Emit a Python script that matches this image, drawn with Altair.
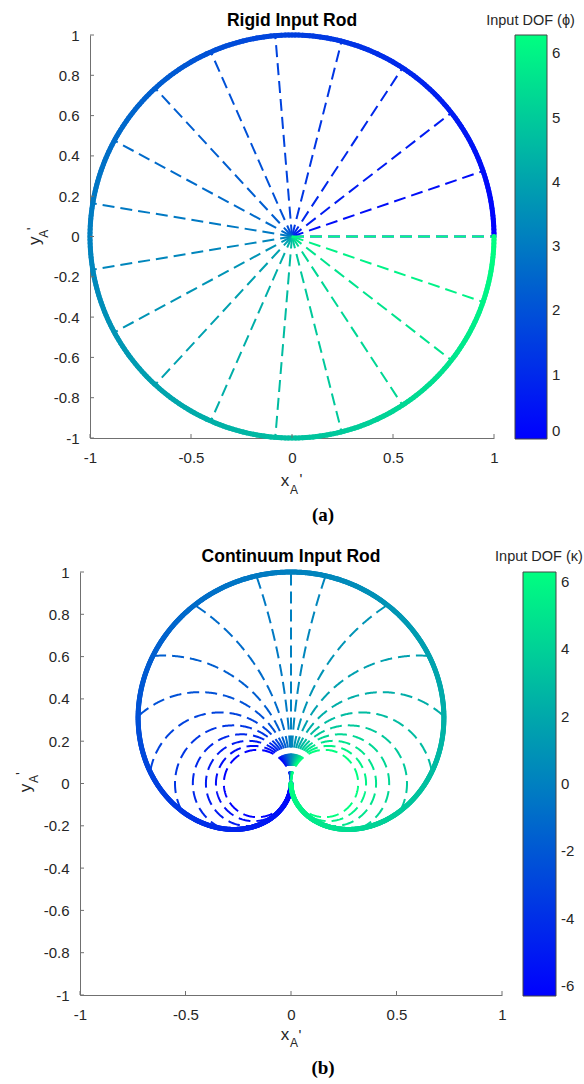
import altair as alt
import numpy as np
import pandas as pd

# ---------------- values ----------------
ROD_LENGTH = 1.0
# (a) rigid input rod: input DOF phi, colour bar 0 .. 2*pi
PHI_RANGE = [0.0, 6.2832]
PHI_SPOKES_DEG = [0, 18.95, 37.89, 56.84, 75.79, 94.74, 113.68, 132.63, 151.58, 170.53,
                  189.47, 208.42, 227.37, 246.32, 265.26, 284.21, 303.16, 322.11, 341.05, 360]
# (b) continuum input rod: input DOF kappa (curvature), colour bar -2*pi .. 2*pi
KAPPA_RANGE = [-6.2832, 6.2832]
KAPPA_ARCS = [-6.283, -5.622, -4.960, -4.299, -3.638, -2.976, -2.315, -1.653, -0.992, -0.331, 0.0,
              0.331, 0.992, 1.653, 2.315, 2.976, 3.638, 4.299, 4.960, 5.622, 6.283]
X_TICKS = [-1, -0.5, 0, 0.5, 1]
Y_TICKS = [-1, -0.8, -0.6, -0.4, -0.2, 0, 0.2, 0.4, 0.6, 0.8, 1]
CBAR_TICKS_A = [0, 1, 2, 3, 4, 5, 6]
CBAR_TICKS_B = [-6, -4, -2, 0, 2, 4, 6]
WINTER = ["#0000ff", "#00ff80"]  # MATLAB 'winter' colormap end points

# ---------------- geometry of the rods ----------------
def arc_xy(kappa, s):
    """planar constant-curvature rod from the origin, initial tangent +y"""
    if abs(kappa) < 1e-9:
        return np.zeros_like(s), ROD_LENGTH * s
    return (1 - np.cos(kappa * s)) / kappa, np.sin(kappa * s) / kappa

# (a) thick circle drawn as coloured segments
phi = np.linspace(PHI_RANGE[0], PHI_RANGE[1], 361)
circ = pd.DataFrame({
    "x": ROD_LENGTH * np.cos(phi[:-1]), "y": ROD_LENGTH * np.sin(phi[:-1]),
    "x2": ROD_LENGTH * np.cos(phi[1:]), "y2": ROD_LENGTH * np.sin(phi[1:]),
    "c": (phi[:-1] + phi[1:]) / 2})
sp = np.radians(PHI_SPOKES_DEG)
spokes = pd.DataFrame({"x": 0.0, "y": 0.0, "x2": ROD_LENGTH * np.cos(sp),
                       "y2": ROD_LENGTH * np.sin(sp), "c": sp})

# (b) tip curve and dashed arcs
kap = np.linspace(KAPPA_RANGE[0], KAPPA_RANGE[1], 801)
safe = np.where(kap == 0, 1, kap)
tx = np.where(np.abs(kap) < 1e-9, 0.0, (1 - np.cos(kap)) / safe)
ty = np.where(np.abs(kap) < 1e-9, 1.0, np.sin(kap) / safe)
tip = pd.DataFrame({"x": tx[:-1], "y": ty[:-1], "x2": tx[1:], "y2": ty[1:],
                    "c": (kap[:-1] + kap[1:]) / 2})
rows = []
s = np.linspace(0, 1, 241)
for i, k in enumerate(KAPPA_ARCS):
    ax_, ay_ = arc_xy(k, s)
    rows.append(pd.DataFrame({"id": i, "s": s, "x": ax_, "y": ay_, "c": k}))
arcs = pd.concat(rows, ignore_index=True)

# ---------------- styling helpers ----------------
FONT = "Liberation Sans"
SERIF = "Liberation Serif"
LBL = "#262626"
AX_COL = "#707070"
SC = alt.Scale(domain=[-1, 1], nice=False, zero=False)
LABEL_EXPR = "toString(datum.value)"
AXX = alt.Axis(title=None, values=X_TICKS, labelExpr=LABEL_EXPR)
AXY = alt.Axis(title=None, values=Y_TICKS, labelExpr=LABEL_EXPR)


def panel(dfs, crange, cticks, width, height, legend_x, thick, texts):
    circ_df, dash_df, dash_is_line = dfs
    tick_len_x = 4 / (width / 2)
    tick_len_y = 4 / (height / 2)
    legend = alt.Legend(orient="none", legendX=legend_x, legendY=0, title=None,
                        direction="vertical", gradientLength=height + 1,
                        gradientThickness=thick, values=cticks, labelExpr=LABEL_EXPR,
                        labelFont=FONT, labelFontSize=15, labelColor=LBL, labelOffset=5,
                        labelBaseline="middle", gradientStrokeColor="#444444",
                        gradientStrokeWidth=1, padding=0)
    col = alt.Color("c:Q", scale=alt.Scale(domain=crange, range=WINTER, interpolate="rgb"),
                    legend=legend)
    X = lambda f: alt.X(f, type="quantitative", scale=SC, axis=AXX)
    Y = lambda f: alt.Y(f, type="quantitative", scale=SC, axis=AXY)

    if dash_is_line:
        dashed = alt.Chart(dash_df).mark_line(strokeWidth=2, strokeDash=[12, 6]).encode(
            x=X("x"), y=Y("y"), detail="id:N", order="s:Q", color=col)
    else:
        dashed = alt.Chart(dash_df).mark_rule(strokeWidth=2, strokeDash=[12, 6]).encode(
            x=X("x"), y=Y("y"), x2="x2", y2="y2", color=col)
    thick_curve = alt.Chart(circ_df).mark_rule(strokeWidth=5, strokeCap="round").encode(
        x=X("x"), y=Y("y"), x2="x2", y2="y2", color=col)

    ytk = pd.DataFrame({"x": -1.0, "x2": -1 + tick_len_x, "y": Y_TICKS, "y2": Y_TICKS})
    xtk = pd.DataFrame({"x": X_TICKS, "x2": X_TICKS, "y": -1.0, "y2": -1 + tick_len_y})
    ticks = [alt.Chart(d).mark_rule(color=AX_COL, strokeWidth=1).encode(
        x=X("x"), y=Y("y"), x2="x2", y2="y2") for d in (ytk, xtk)]

    layers = [dashed, thick_curve] + ticks
    for t in texts:
        (txt, xd, yd, dx, dy, size, weight, angle, font) = t
        layers.append(alt.Chart(pd.DataFrame({"t": [txt]})).mark_text(
            dx=dx, dy=dy, fontSize=size, fontWeight=weight, angle=angle, font=font,
            color="#000000" if weight == "bold" else LBL, baseline="middle", align="center"
        ).encode(x=alt.XDatum(xd, type="quantitative", scale=SC, axis=AXX),
                 y=alt.YDatum(yd, type="quantitative", scale=SC, axis=AXY),
                 text="t:N"))
    return alt.layer(*layers).properties(width=width, height=height)


texts_a = [
    ("Rigid Input Rod", 0, 1, 0, -13.6, 17.5, "bold", 0, FONT),
    ("Input DOF (ϕ)", 1, 1, 36.5, -14, 14.5, "normal", 0, FONT),
    ("x", 0, -1, -7, 43, 17, "normal", 0, FONT),
    ("A", 0, -1, 2, 51.5, 12, "normal", 0, FONT),
    ("'", 0, -1, 9, 41, 15, "normal", 0, FONT),
    ("y", -1, 0, -4.3, -55, 17, "normal", 270, FONT),
    ("A", -1, 0, 2.7, -46, 12, "normal", 270, FONT),
    ("'", -1, 0, 7.7, -58.5, 15, "normal", 270, FONT),
    ("(a)", 0, -1, 31, 76.5, 19, "bold", 0, SERIF),
]
texts_b = [
    ("Continuum Input Rod", 0, 1, 0, -15, 17.5, "bold", 0, FONT),
    ("Input DOF (κ)", 1, 1, 37, -15, 14.5, "normal", 0, FONT),
    ("x", 0, -1, -6, 40, 17, "normal", 0, FONT),
    ("A", 0, -1, 3, 48, 12, "normal", 0, FONT),
    ("'", 0, -1, 9, 39.5, 15, "normal", 0, FONT),
    ("y", -1, 0, -4.5, -54, 17, "normal", 270, FONT),
    ("A", -1, 0, 4.5, -46, 12, "normal", 270, FONT),
    ("'", -1, 0, 10, -59, 15, "normal", 270, FONT),
    ("(b)", 0, -1, 32, 73, 19, "bold", 0, SERIF),
]

top = panel((circ, spokes, False), PHI_RANGE, CBAR_TICKS_A, 404, 403, 425, 32, texts_a)
bottom = panel((tip, arcs, True), KAPPA_RANGE, CBAR_TICKS_B, 422, 423, 443, 33, texts_b)

spacer = alt.Chart(pd.DataFrame({"v": [0]})).mark_point(opacity=0).encode(
    x=alt.X("v:Q", axis=None), y=alt.Y("v:Q", axis=None)).properties(width=10, height=403)

row = alt.hconcat(spacer, top, spacing=0, bounds="flush").resolve_scale(
    x="independent", y="independent", color="independent")

# the nested row counts as zero height in the flush layout, so the spacing
# holds the top panel's height (403) plus the gap between the panels (134)
chart = alt.vconcat(row, bottom, spacing=537, bounds="flush").resolve_scale(
    x="independent", y="independent", color="independent"
).resolve_legend(color="independent").properties(
    padding={"left": 13, "top": 11, "right": 0, "bottom": 0},
    autosize=alt.AutoSizeParams(type="pad"),
    background="#ffffff",
).configure_view(stroke="transparent").configure_axis(
    labelFont=FONT, labelFontSize=15, labelColor=LBL, domainColor=AX_COL, domainWidth=1,
    ticks=False, tickSize=0, grid=False, labelFlush=False, labelOverlap=False,
).configure_axisX(labelPadding=12).configure_axisY(labelPadding=11)

chart.save("out.html", embed_options={"renderer": "svg", "actions": False})
